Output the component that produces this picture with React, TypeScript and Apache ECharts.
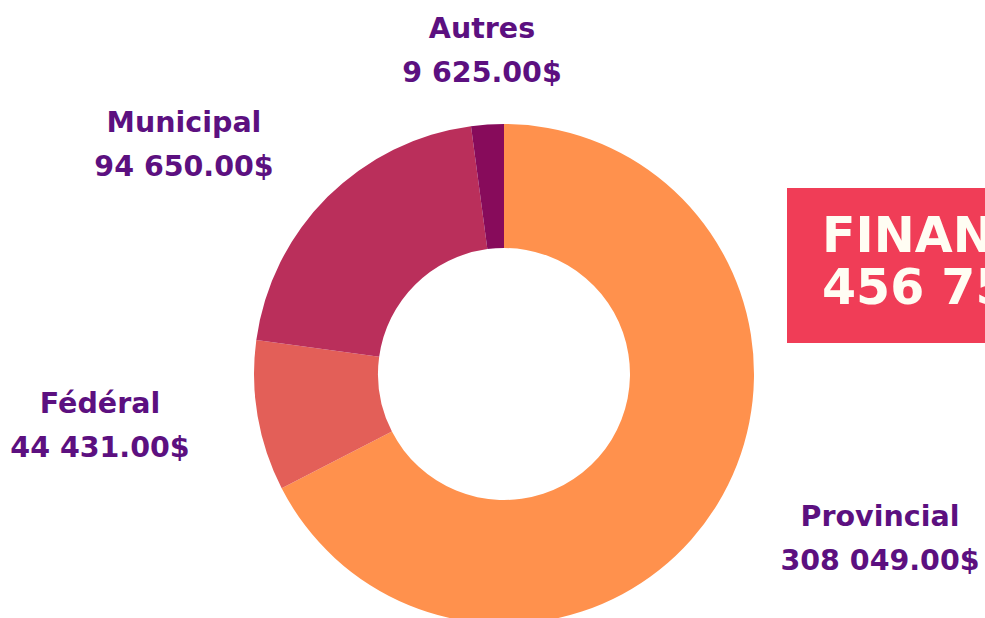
import React, { useEffect, useRef } from "react";
import * as echarts from "echarts";

const categories = ["Provincial", "Fédéral", "Municipal", "Autres"];
const amounts = [308049, 44431, 94650, 9625];
const sliceColors = ["#FF914D", "#E35F58", "#BA2F5B", "#870B5B"];
const totalTitle = "FINANCEMENT TOTAL";

// label anchor points (block centres), per category
const LABEL_POS: [number, number][] = [
  [880, 538],
  [100, 425],
  [184, 144],
  [482, 50],
];

const FONT = '"DejaVu Sans", sans-serif';
const LABEL_COLOR = "#5C1080";

function money(v: number): string {
  const [i, d] = v.toFixed(2).split(".");
  return i.replace(/\B(?=(\d{3})+(?!\d))/g, " ") + "." + d + "$";
}

export default function App() {
  const ref = useRef<HTMLDivElement>(null);

  useEffect(() => {
    if (!ref.current) return;
    const chart = echarts.init(ref.current, undefined, { renderer: "svg" });
    const total = amounts.reduce((a, b) => a + b, 0);
    const data = categories.map((name, i) => ({
      name,
      value: amounts[i],
      itemStyle: { color: sliceColors[i] },
    }));
    chart.setOption({
      animation: false,
      backgroundColor: "#ffffff",
      series: [
        {
          type: "pie",
          center: [504, 374],
          radius: [126, 250],
          startAngle: 90,
          clockwise: true,
          avoidLabelOverlap: false,
          silent: true,
          data,
          label: {
            show: true,
            position: "outside",
            formatter: (p: any) => `{n|${p.name}}\n{v|${money(p.value)}}`,
            rich: {
              n: {
                fontFamily: FONT,
                fontWeight: "bold",
                fontSize: 28.5,
                lineHeight: 44,
                color: LABEL_COLOR,
                align: "center",
              },
              v: {
                fontFamily: FONT,
                fontWeight: "bold",
                fontSize: 28.5,
                lineHeight: 44,
                color: LABEL_COLOR,
                align: "center",
              },
            },
          },
          labelLine: { show: false },
          labelLayout: (params: any) => {
            const p = LABEL_POS[params.dataIndex];
            return { x: p[0], y: p[1], align: "center", verticalAlign: "middle" };
          },
          emphasis: { disabled: true },
        },
      ],
      graphic: [
        {
          type: "rect",
          shape: { x: 787, y: 188, width: 320, height: 155 },
          style: { fill: "#F03D57" },
        },
        {
          type: "text",
          x: 822,
          y: 235,
          style: {
            text: totalTitle,
            fontFamily: FONT,
            fontWeight: "bold",
            fontSize: 49,
            fill: "#FFFDF3",
            align: "left",
            verticalAlign: "middle",
          },
        },
        {
          type: "text",
          x: 822,
          y: 287.5,
          style: {
            text: money(total),
            fontFamily: FONT,
            fontWeight: "bold",
            fontSize: 49,
            fill: "#FFFDF3",
            align: "left",
            verticalAlign: "middle",
          },
        },
      ],
    });
    return () => chart.dispose();
  }, []);

  return (
    <div
      ref={ref}
      style={{ position: "fixed", left: 0, top: 0, width: 985, height: 618 }}
    />
  );
}
